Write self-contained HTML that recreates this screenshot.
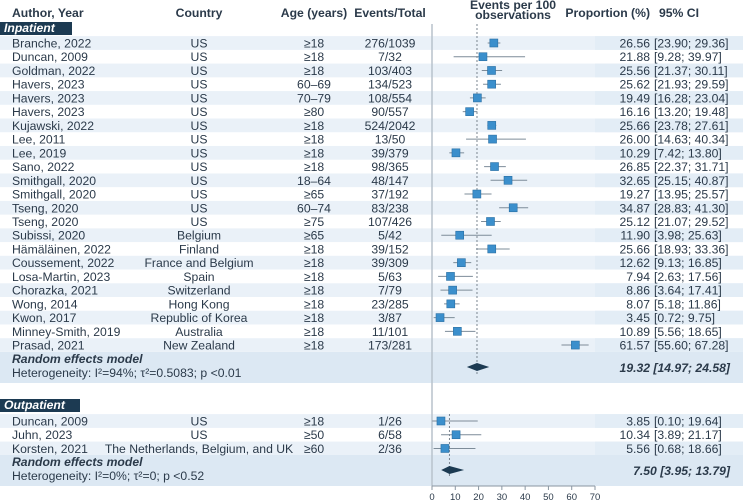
<!DOCTYPE html>
<html><head><meta charset="utf-8"><style>
body{margin:0;background:#fff}
svg{display:block;font-family:"Liberation Sans",sans-serif}
text{fill:#2b3a4a;font-size:12.2px}
</style></head><body>
<svg id="fp" width="743" height="502" viewBox="0 0 743 502"></svg>
<script>
const inAuthors=["Branche, 2022","Duncan, 2009","Goldman, 2022","Havers, 2023","Havers, 2023","Havers, 2023","Kujawski, 2022","Lee, 2011","Lee, 2019","Sano, 2022","Smithgall, 2020","Smithgall, 2020","Tseng, 2020","Tseng, 2020","Subissi, 2020","Hämäläinen, 2022","Coussement, 2022","Losa-Martin, 2023","Chorazka, 2021","Wong, 2014","Kwon, 2017","Minney-Smith, 2019","Prasad, 2021"];
const inCountry=["US","US","US","US","US","US","US","US","US","US","US","US","US","US","Belgium","Finland","France and Belgium","Spain","Switzerland","Hong Kong","Republic of Korea","Australia","New Zealand"];
const inAge=["≥18","≥18","≥18","60–69","70–79","≥80","≥18","≥18","≥18","≥18","18–64","≥65","60–74","≥75","≥65","≥18","≥18","≥18","≥18","≥18","≥18","≥18","≥18"];
const inEvents=["276/1039","7/32","103/403","134/523","108/554","90/557","524/2042","13/50","39/379","98/365","48/147","37/192","83/238","107/426","5/42","39/152","39/309","5/63","7/79","23/285","3/87","11/101","173/281"];
const inEst=[26.56,21.88,25.56,25.62,19.49,16.16,25.66,26.00,10.29,26.85,32.65,19.27,34.87,25.12,11.90,25.66,12.62,7.94,8.86,8.07,3.45,10.89,61.57];
const inLo=[23.90,9.28,21.37,21.93,16.28,13.20,23.78,14.63,7.42,22.37,25.15,13.95,28.83,21.07,3.98,18.93,9.13,2.63,3.64,5.18,0.72,5.56,55.60];
const inHi=[29.36,39.97,30.11,29.59,23.04,19.48,27.61,40.34,13.80,31.71,40.87,25.57,41.30,29.52,25.63,33.36,16.85,17.56,17.41,11.86,9.75,18.65,67.28];
const inPool=[19.32,14.97,24.58];
const outAuthors=["Duncan, 2009","Juhn, 2023","Korsten, 2021"];
const outCountry=["US","US","The Netherlands, Belgium, and UK"];
const outAge=["≥18","≥50","≥60"];
const outEvents=["1/26","6/58","2/36"];
const outEst=[3.85,10.34,5.56];
const outLo=[0.10,3.89,0.68];
const outHi=[19.64,21.17,18.66];
const outPool=[7.50,3.95,13.79];
const ticks=[0,10,20,30,40,50,60,70];

const svg=document.getElementById('fp');
const NS="http://www.w3.org/2000/svg";
const X0=432,X1=595,STEP=13.73;
const xs=v=>X0+(v-0)/(70-0)*(X1-X0);
function el(tag,attrs,txt){const e=document.createElementNS(NS,tag);for(const k in attrs)e.setAttribute(k,attrs[k]);if(txt!==undefined)e.textContent=txt;svg.appendChild(e);return e;}
function tx(x,y,s,anchor,extra){return el('text',Object.assign({x:x,y:y,'text-anchor':anchor||'start'},extra||{}),s);}
const fmt=v=>v.toFixed(2);

let h;
h=tx(12,17,"Author, Year","start",{'font-weight':'bold'});
h=tx(199,17,"Country","middle",{'font-weight':'bold'});
h=tx(314,17,"Age (years)","middle",{'font-weight':'bold'});
h=tx(390,17,"Events/Total","middle",{'font-weight':'bold'});
h=tx(513,9,"Events per 100","middle",{'font-weight':'bold'});
h=tx(513,19,"observations","middle",{'font-weight':'bold'});
h=tx(650,17,"Proportion (%)","end",{'font-weight':'bold'});
h=tx(659,17,"95% CI","start",{'font-weight':'bold'});

function section(title,ty,tw,y0,authors,country,age,events,est,lo,hi,pool,het,poolY){
  const g=el('rect',{x:0,y:ty-9,width:tw,height:13,fill:'#1c3a52'});
  
  const t=tx(4,ty+1,title,"start",{'font-weight':'bold','font-style':'italic',style:'fill:#fff'});
  
  for(let i=0;i<authors.length;i++){
    const y=y0+i*STEP;
    if(i%2===0){
      const r=el('rect',{x:0,y:y-STEP/2,width:743,height:STEP,fill:'#eaf1f8'});
      
      const r2=el('rect',{x:X1,y:y-STEP/2,width:148,height:STEP,fill:'#e3edf6'});
      
    }
  }
  const pb=el('rect',{x:0,y:poolY-15,width:743,height:31,fill:'#dce8f3'});
  
  for(let i=0;i<authors.length;i++){
    const y=y0+i*STEP, by=y+4.5;
    let a=tx(12,by,authors[i]);
    a=tx(199,by,country[i],"middle");
    a=tx(314,by,age[i],"middle");
    a=tx(390,by,events[i],"middle");
    a=tx(650,by,fmt(est[i]),"end");
    a=tx(654,by,"["+fmt(lo[i])+"; "+fmt(hi[i])+"]","start");
  }
  let a=tx(12,poolY-4,"Random effects model","start",{'font-weight':'bold','font-style':'italic'});
  a=tx(12,poolY+10,het,"start");
  a=tx(730,poolY+5,fmt(pool[0])+" ["+fmt(pool[1])+"; "+fmt(pool[2])+"]","end",{'font-weight':'bold','font-style':'italic'});
}
section("Inpatient",31,72,43,inAuthors,inCountry,inAge,inEvents,inEst,inLo,inHi,inPool,"Heterogeneity: I²=94%; τ²=0.5083; p <0.01",367);
section("Outpatient",408,80,421,outAuthors,outCountry,outAge,outEvents,outEst,outLo,outHi,outPool,"Heterogeneity: I²=0%; τ²=0; p <0.52",470);

let ax=el('line',{x1:X0,y1:24,x2:X0,y2:486,stroke:'#b8c2cc','stroke-width':1.5});

ax=el('line',{x1:X0,y1:486,x2:X1,y2:486,stroke:'#8a96a2','stroke-width':1});

ticks.forEach(t=>{
  const k=el('line',{x1:xs(t),y1:486,x2:xs(t),y2:490,stroke:'#8a96a2'});
  
  const l=tx(xs(t),500,String(t),"middle",{style:'font-size:9.5px'});
  
});
let d=el('line',{x1:xs(inPool[0]),y1:24,x2:xs(inPool[0]),y2:375,stroke:'#7a8590','stroke-dasharray':'2,2'});

d=el('line',{x1:xs(outPool[0]),y1:414,x2:xs(outPool[0]),y2:478,stroke:'#7a8590','stroke-dasharray':'2,2'});


function marks(y0,est,lo,hi,pool,poolY){
  for(let i=0;i<est.length;i++){
    const y=y0+i*STEP;
    const ci=el('line',{x1:xs(lo[i]),y1:y,x2:xs(hi[i]),y2:y,stroke:'#7d8c99','stroke-width':1});
    
    const s=el('rect',{x:xs(est[i])-4,y:y-4,width:8,height:8,fill:'#3b8fcc',stroke:'#2a6fa3','stroke-width':0.6});
    
  }
  const dm=el('polygon',{points:`${xs(pool[1])},${poolY} ${xs(pool[0])},${poolY-4} ${xs(pool[2])},${poolY} ${xs(pool[0])},${poolY+4}`,fill:'#1c3a52'});
  
}
marks(43,inEst,inLo,inHi,inPool,367);
marks(421,outEst,outLo,outHi,outPool,470);
</script>
</body></html>
